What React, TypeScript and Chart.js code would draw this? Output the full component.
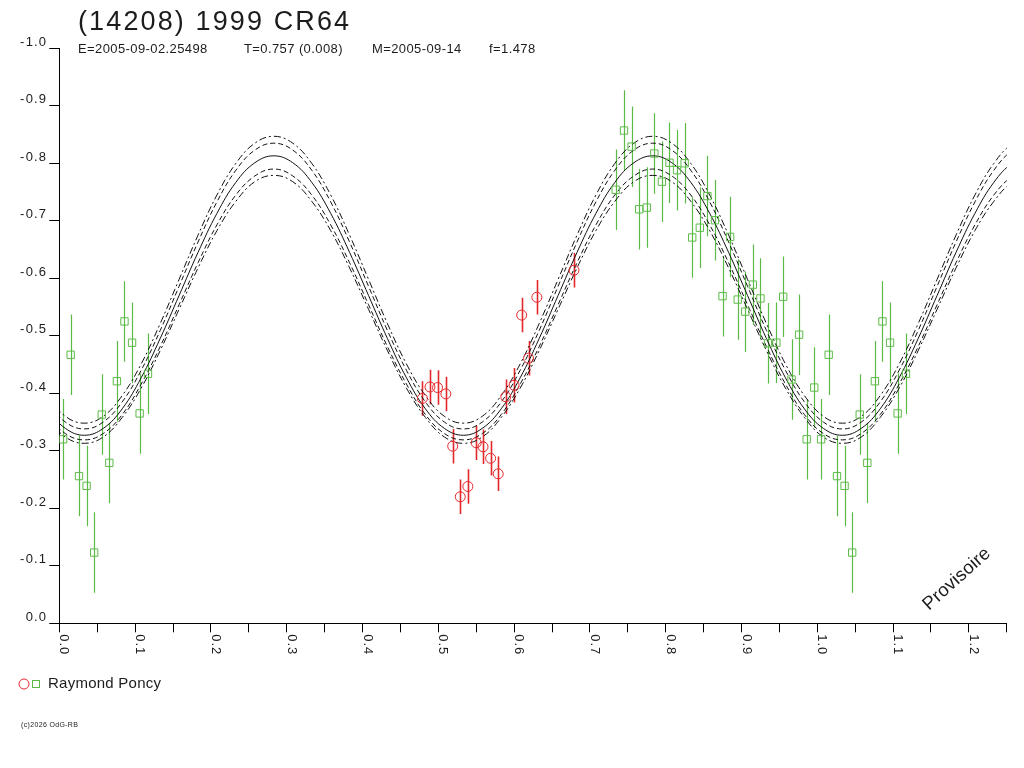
import React, { useEffect, useRef } from 'react';
import { Chart, registerables } from 'chart.js';

Chart.register(...registerables);

// ---------- text ----------
const TITLE = '(14208) 1999 CR64';
const SUBTITLE_PARTS = ['E=2005-09-02.25498', 'T=0.757 (0.008)', 'M=2005-09-14', 'f=1.478'];
const OBSERVER = 'Raymond Poncy';
const COPYRIGHT = '(c)2026 OdG-RB';
const WATERMARK = 'Provisoire';

// ---------- axes ----------
const X_MIN = 0;
const X_MAX = 1.25;
const Y_MIN = -1.0;
const Y_MAX = 0.0;
const X_TICK_VALUES = [0, 0.1, 0.2, 0.3, 0.4, 0.5, 0.6, 0.7, 0.8, 0.9, 1.0, 1.1, 1.2];
const X_TICK_LABELS = ['0.0', '0.1', '0.2', '0.3', '0.4', '0.5', '0.6', '0.7', '0.8', '0.9', '1.0', '1.1', '1.2'];

// ---------- observations (phase, magnitude, error) ----------
const RED_PHASE = [0.479, 0.489, 0.499, 0.510, 0.519, 0.529, 0.539, 0.550, 0.559, 0.569, 0.579, 0.589, 0.600, 0.610, 0.619, 0.630, 0.679];
const RED_MAG = [-0.391, -0.411, -0.410, -0.399, -0.308, -0.220, -0.238, -0.314, -0.307, -0.287, -0.260, -0.394, -0.414, -0.536, -0.461, -0.567, -0.614];
const RED_ERR = [0.03, 0.03, 0.03, 0.03, 0.03, 0.03, 0.03, 0.03, 0.03, 0.03, 0.03, 0.03, 0.03, 0.03, 0.03, 0.03, 0.03];

const GREEN_PHASE = [
  0.005, 0.015, 0.026, 0.036, 0.046, 0.056, 0.066, 0.076, 0.086, 0.096, 0.106, 0.117,
  0.734, 0.745, 0.755, 0.765, 0.775, 0.785, 0.795, 0.805, 0.815, 0.825,
  0.835, 0.845, 0.855, 0.865, 0.875, 0.885, 0.895, 0.905, 0.915, 0.925,
  0.935, 0.946, 0.955, 0.966, 0.976, 0.986, 0.996,
];
const GREEN_MAG = [
  -0.320, -0.467, -0.256, -0.239, -0.123, -0.363, -0.279, -0.421, -0.525, -0.488, -0.365, -0.434,
  -0.754, -0.857, -0.829, -0.720, -0.723, -0.817, -0.768, -0.801, -0.788, -0.800,
  -0.671, -0.688, -0.743, -0.701, -0.569, -0.672, -0.563, -0.542, -0.589, -0.565,
  -0.487, -0.488, -0.568, -0.424, -0.502, -0.320, -0.410,
];
const GREEN_ERR = [
  0.07, 0.07, 0.07, 0.07, 0.07, 0.07, 0.07, 0.07, 0.07, 0.07, 0.07, 0.07,
  0.07, 0.07, 0.07, 0.07, 0.07, 0.07, 0.07, 0.07, 0.07, 0.07,
  0.07, 0.07, 0.07, 0.07, 0.07, 0.07, 0.07, 0.07, 0.07, 0.07,
  0.07, 0.07, 0.07, 0.07, 0.07, 0.07, 0.07,
];

// ---------- fitted light curve and its envelopes ----------
const CURVE_PHASE = [
  -0.017, 0.008, 0.033, 0.058, 0.083, 0.108, 0.133, 0.158, 0.183, 0.208, 0.233, 0.258, 0.283,
  0.308, 0.333, 0.358, 0.383, 0.408, 0.433, 0.458, 0.483, 0.508, 0.533, 0.558, 0.583, 0.608,
  0.633, 0.658, 0.683, 0.708, 0.733, 0.758, 0.783, 0.808, 0.833, 0.858, 0.883, 0.908, 0.933,
  0.958, 0.983, 1.008, 1.033, 1.058, 1.083, 1.108, 1.133, 1.158, 1.183, 1.208, 1.233, 1.258, 1.283,
];
const CURVE_MID = [
  -0.373, -0.339, -0.327,
  -0.339, -0.373, -0.427, -0.495, -0.570, -0.645, -0.713, -0.767, -0.801, -0.813,
  -0.801, -0.767, -0.713, -0.645, -0.570, -0.495, -0.427, -0.373, -0.339, -0.327,
  -0.339, -0.373, -0.427, -0.495, -0.570, -0.645, -0.713, -0.767, -0.801, -0.813,
  -0.801, -0.767, -0.713, -0.645, -0.570, -0.495, -0.427, -0.373, -0.339, -0.327,
  -0.339, -0.373, -0.427, -0.495, -0.570, -0.645, -0.713, -0.767, -0.801, -0.813,
];
const CURVE_UP_OUTER = [
  -0.396, -0.360, -0.348,
  -0.360, -0.396, -0.451, -0.521, -0.598, -0.675, -0.745, -0.800, -0.835, -0.847,
  -0.835, -0.800, -0.745, -0.675, -0.598, -0.521, -0.451, -0.396, -0.360, -0.348,
  -0.360, -0.396, -0.451, -0.521, -0.598, -0.675, -0.745, -0.800, -0.835, -0.847,
  -0.835, -0.800, -0.745, -0.675, -0.598, -0.521, -0.451, -0.396, -0.360, -0.348,
  -0.360, -0.396, -0.451, -0.521, -0.598, -0.675, -0.745, -0.800, -0.835, -0.847,
];
const CURVE_UP_INNER = [
  -0.385, -0.350, -0.338,
  -0.350, -0.385, -0.440, -0.509, -0.586, -0.663, -0.733, -0.788, -0.823, -0.835,
  -0.823, -0.788, -0.733, -0.663, -0.586, -0.509, -0.440, -0.385, -0.350, -0.338,
  -0.350, -0.385, -0.440, -0.509, -0.586, -0.663, -0.733, -0.788, -0.823, -0.835,
  -0.823, -0.788, -0.733, -0.663, -0.586, -0.509, -0.440, -0.385, -0.350, -0.338,
  -0.350, -0.385, -0.440, -0.509, -0.586, -0.663, -0.733, -0.788, -0.823, -0.835,
];
const CURVE_LOW_INNER = [
  -0.363, -0.330, -0.319,
  -0.330, -0.363, -0.416, -0.481, -0.554, -0.627, -0.693, -0.745, -0.778, -0.790,
  -0.778, -0.745, -0.693, -0.627, -0.554, -0.481, -0.416, -0.363, -0.330, -0.319,
  -0.330, -0.363, -0.416, -0.481, -0.554, -0.627, -0.693, -0.745, -0.778, -0.790,
  -0.778, -0.745, -0.693, -0.627, -0.554, -0.481, -0.416, -0.363, -0.330, -0.319,
  -0.330, -0.363, -0.416, -0.481, -0.554, -0.627, -0.693, -0.745, -0.778, -0.790,
];
const CURVE_LOW_OUTER = [
  -0.358, -0.324, -0.313,
  -0.324, -0.358, -0.409, -0.474, -0.546, -0.618, -0.683, -0.734, -0.768, -0.779,
  -0.768, -0.734, -0.683, -0.618, -0.546, -0.474, -0.409, -0.358, -0.324, -0.313,
  -0.324, -0.358, -0.409, -0.474, -0.546, -0.618, -0.683, -0.734, -0.768, -0.779,
  -0.768, -0.734, -0.683, -0.618, -0.546, -0.474, -0.409, -0.358, -0.324, -0.313,
  -0.324, -0.358, -0.409, -0.474, -0.546, -0.618, -0.683, -0.734, -0.768, -0.779,
];

// ---------- styles ----------
const RED = '#e3282c';
const GREEN = '#5cbb47';
const INK = '#1c1c1c';
const FONT = '"Liberation Sans", Arial, sans-serif';

function fitText(ctx: CanvasRenderingContext2D, text: string, x: number, y: number, width: number) {
  (ctx as any).letterSpacing = '0px';
  const w0 = ctx.measureText(text).width;
  const ls = text.length > 1 ? (width - w0) / (text.length - 1) : 0;
  (ctx as any).letterSpacing = ls.toFixed(2) + 'px';
  ctx.fillText(text, x, y);
  (ctx as any).letterSpacing = '0px';
}

function spacedText(ctx: CanvasRenderingContext2D, text: string, x: number, y: number, spacing: number) {
  (ctx as any).letterSpacing = spacing + 'px';
  ctx.fillText(text, x, y);
  (ctx as any).letterSpacing = '0px';
}

const errorBarPlugin = {
  id: 'errorBars',
  beforeDatasetsDraw(chart: any) {
    const { ctx, scales } = chart;
    const xs = scales.x;
    const ys = scales.y;
    const draw = (phases: number[], mags: number[], errs: number[], color: string, width: number) => {
      ctx.save();
      ctx.strokeStyle = color;
      ctx.lineWidth = width;
      ctx.beginPath();
      phases.forEach((p, i) => {
        [p, p + 1].forEach((ph) => {
          if (ph < X_MIN || ph > X_MAX) return;
          const px = Math.round(xs.getPixelForValue(ph)) + 0.5;
          ctx.moveTo(px, ys.getPixelForValue(mags[i] - errs[i]));
          ctx.lineTo(px, ys.getPixelForValue(mags[i] + errs[i]));
        });
      });
      ctx.stroke();
      ctx.restore();
    };
    draw(GREEN_PHASE, GREEN_MAG, GREEN_ERR, GREEN, 1.2);
    draw(RED_PHASE, RED_MAG, RED_ERR, RED, 1.6);
  },
};

const textPlugin = {
  id: 'texts',
  beforeDraw(chart: any) {
    (chart.ctx as any).letterSpacing = '1.2px';
  },
  afterDraw(chart: any) {
    const { ctx, chartArea } = chart;
    const xs = chart.scales.x;
    ctx.save();
    ctx.fillStyle = INK;
    ctx.textBaseline = 'alphabetic';
    ctx.textAlign = 'left';

    // rotated x tick labels (reading downward)
    ctx.font = `13px ${FONT}`;
    X_TICK_VALUES.forEach((v, i) => {
      const px = xs.getPixelForValue(v);
      ctx.save();
      ctx.translate(px + 1, chartArea.bottom + 11);
      ctx.rotate(Math.PI / 2);
      fitText(ctx, X_TICK_LABELS[i], 0, 0, 20);
      ctx.restore();
    });

    // title and subtitle
    ctx.font = `27px ${FONT}`;
    fitText(ctx, TITLE, 78, 30, 271);
    ctx.font = `13px ${FONT}`;
    const subX = [78, 244, 372, 489];
    SUBTITLE_PARTS.forEach((t, i) => spacedText(ctx, t, subX[i], 53, 0.4));

    // legend
    ctx.lineWidth = 1;
    ctx.strokeStyle = RED;
    ctx.beginPath();
    ctx.arc(24, 684, 5, 0, Math.PI * 2);
    ctx.stroke();
    ctx.strokeStyle = GREEN;
    ctx.strokeRect(32.5, 680.5, 7, 7);
    ctx.fillStyle = INK;
    ctx.font = `15px ${FONT}`;
    fitText(ctx, OBSERVER, 48, 688, 113);

    // copyright
    ctx.font = `7px ${FONT}`;
    fitText(ctx, COPYRIGHT, 21, 727, 57);

    // watermark
    ctx.save();
    ctx.translate(929, 611);
    ctx.rotate(-42 * Math.PI / 180);
    ctx.font = `18.5px ${FONT}`;
    fitText(ctx, WATERMARK, 0, 0, 84);
    ctx.restore();

    ctx.restore();
    (ctx as any).letterSpacing = '0px';
  },
};

export default function App() {
  const ref = useRef<HTMLCanvasElement>(null);

  useEffect(() => {
    const canvas = ref.current;
    if (!canvas) return;

    const redPts = RED_PHASE.map((p, i) => ({ x: p, y: RED_MAG[i] }));
    const greenPts: { x: number; y: number }[] = [];
    GREEN_PHASE.forEach((p, i) => {
      [p, p + 1].forEach((ph) => {
        if (ph >= X_MIN && ph <= X_MAX) greenPts.push({ x: ph, y: GREEN_MAG[i] });
      });
    });
    const curve = (vals: number[]) => CURVE_PHASE.map((p, i) => ({ x: p, y: vals[i] }));
    const lineDs = (label: string, vals: number[], dash: number[]) => ({
      label,
      data: curve(vals),
      showLine: true,
      pointRadius: 0,
      pointHoverRadius: 0,
      borderColor: '#111',
      borderWidth: 1,
      borderDash: dash,
      tension: 0.4,
      fill: false,
    });

    const chart = new Chart(canvas, {
      type: 'scatter',
      data: {
        datasets: [
          {
            label: 'Raymond Poncy A',
            data: redPts,
            pointStyle: 'circle',
            pointRadius: 5,
            pointHoverRadius: 5,
            borderWidth: 1,
            borderColor: RED,
            backgroundColor: 'rgba(0,0,0,0)',
          },
          {
            label: 'Raymond Poncy B',
            data: greenPts,
            pointStyle: 'rect',
            pointRadius: 5.2,
            pointHoverRadius: 5.2,
            borderWidth: 1,
            borderColor: GREEN,
            backgroundColor: 'rgba(0,0,0,0)',
          },
          lineDs('fit', CURVE_MID, []),
          lineDs('fit +', CURVE_UP_INNER, [5, 3]),
          lineDs('fit -', CURVE_LOW_INNER, [5, 3]),
          lineDs('fit ++', CURVE_UP_OUTER, [7, 3, 2, 3]),
          lineDs('fit --', CURVE_LOW_OUTER, [7, 3, 2, 3]),
        ] as any,
      },
      options: {
        animation: false,
        responsive: false,
        devicePixelRatio: 1,
        events: [],
        layout: { padding: { left: 0, top: 48.3, right: 17.2, bottom: 0 } },
        plugins: {
          legend: { display: false },
          tooltip: { enabled: false },
          title: { display: false },
        },
        scales: {
          x: {
            type: 'linear',
            min: X_MIN,
            max: X_MAX,
            afterFit: (s: any) => { s.height = 144.7; },
            ticks: { stepSize: 0.05, autoSkip: false, callback: () => '', font: { family: FONT, size: 13 } },
            grid: { drawOnChartArea: false, drawTicks: true, tickLength: 9, color: '#000', lineWidth: 1 },
            border: { display: true, color: '#000', width: 1 },
          },
          y: {
            type: 'linear',
            min: Y_MIN,
            max: Y_MAX,
            reverse: true,
            afterFit: (s: any) => { s.width = 59.3; },
            ticks: {
              stepSize: 0.1,
              padding: 2,
              labelOffset: -6,
              color: INK,
              font: { family: FONT, size: 13 },
              callback: (v: any) => (Math.abs(Number(v)) < 1e-9 ? '0.0' : Number(v).toFixed(1)),
            },
            grid: { drawOnChartArea: false, drawTicks: true, tickLength: 10, color: '#000', lineWidth: 1 },
            border: { display: true, color: '#000', width: 1 },
          },
        },
      } as any,
      plugins: [errorBarPlugin, textPlugin] as any,
    });

    return () => chart.destroy();
  }, []);

  return (
    <div style={{ position: 'absolute', left: 0, top: 0, width: 1024, height: 768, background: '#fff' }}>
      <canvas ref={ref} width={1024} height={768} style={{ display: 'block', width: '1024px', height: '768px' }} />
    </div>
  );
}
